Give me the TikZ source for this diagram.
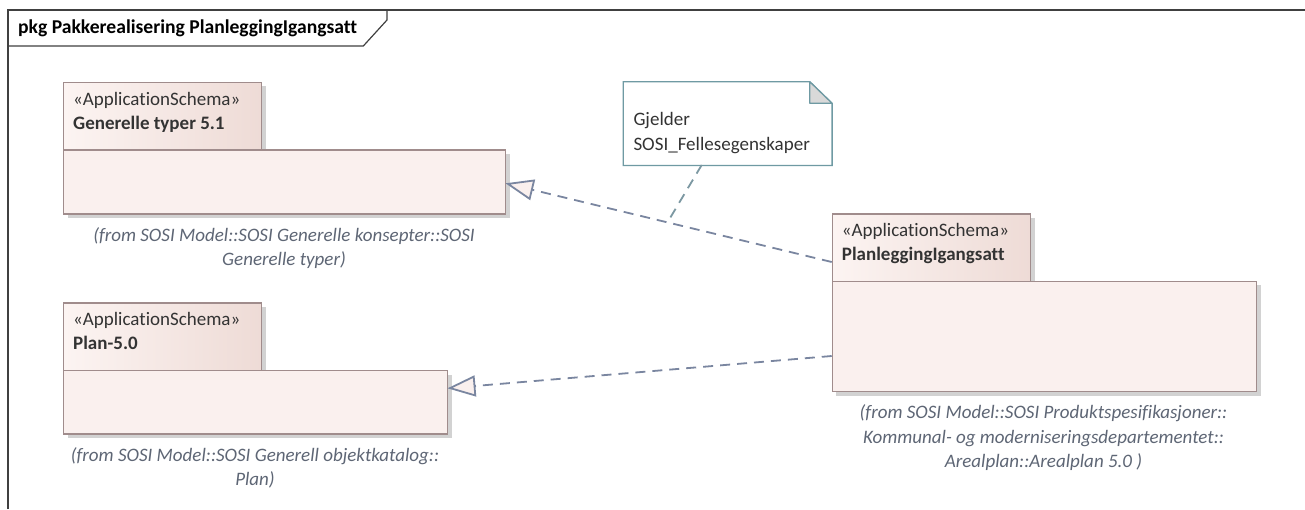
\documentclass[tikz,border=0pt]{standalone}
\usepackage{fontspec}
\setmainfont{Carlito}[Ligatures={NoCommon,NoRequired,NoContextual}]
\usetikzlibrary{arrows.meta,shadows}
\definecolor{framec}{HTML}{404040}
\definecolor{pkgborder}{HTML}{A08C8C}
\definecolor{pkgfill}{HTML}{FAF0EE}
\definecolor{tabL}{HTML}{FCF4F2}
\definecolor{tabR}{HTML}{EEDBD6}
\definecolor{shadowc}{HTML}{D2D2D2}
\definecolor{conn}{HTML}{7A86A0}
\definecolor{notebd}{HTML}{6F9AA3}
\definecolor{notelink}{HTML}{7C98A2}
\definecolor{foldc}{HTML}{D9D9D9}
\definecolor{txt}{HTML}{333333}
\definecolor{capc}{HTML}{5E6675}
\begin{document}
\begin{tikzpicture}[x=1pt,y=-1pt,font=\fontsize{19}{24}\selectfont,
  pkgbox/.style={draw=pkgborder,line width=1.3pt,fill=pkgfill,anchor=north west,inner sep=0pt,
    drop shadow={shadow xshift=4pt,shadow yshift=-4pt,fill=shadowc,opacity=1}},
  pkgtab/.style={pkgbox,left color=tabL,right color=tabR},
  stereo/.style={anchor=base west,inner sep=0pt,text=txt},
  pkgname/.style={anchor=base west,inner sep=0pt,text=txt,font=\bfseries\fontsize{19}{24}\selectfont},
  captxt/.style={anchor=base,inner sep=0pt,text=capc,font=\itshape\fontsize{19}{24}\selectfont},
  conn/.style={draw=conn,line width=1.8pt,dash pattern=on 10pt off 7pt,
    -{Triangle[length=28pt,width=21pt,fill=pkgfill,line width=1.8pt]}},
  notelinkst/.style={draw=notelink,line width=1.8pt,dash pattern=on 10pt off 7pt}
]
\useasboundingbox (0,0) rectangle (1305,509);
\fill[white] (0,0) rectangle (1305,509);

% frame
\draw[framec,line width=1.5pt] (8,509) -- (8,10) -- (1305,10);
\draw[framec,line width=1.2pt] (8,46) -- (363.3,46) -- (387,20) -- (387,10);
\node[anchor=base west,inner sep=0pt,text=black,font=\bfseries\fontsize{19.6}{22}\selectfont] (title) at (18,33.5) {pkg Pakkerealisering PlanleggingIgangsatt};

% Generelle typer 5.1
\node[pkgtab,minimum width=198pt,minimum height=67.6pt] (gtab) at (63,81.7) {};
\node[pkgbox,minimum width=442pt,minimum height=64pt] (gbody) at (63,149.3) {};
\node[stereo] (gst) at (73,105) {«ApplicationSchema»};
\node[pkgname] (gname) at (73,129) {Generelle typer 5.1};
\node[captxt] (gcap1) at (284,241) {(from SOSI Model::SOSI Generelle konsepter::SOSI};
\node[captxt] (gcap2) at (284,265) {Generelle typer)};

% Plan-5.0
\node[pkgtab,minimum width=198pt,minimum height=67.7pt] (ptab) at (63,302.3) {};
\node[pkgbox,minimum width=384pt,minimum height=63.3pt] (pbody) at (63,370) {};
\node[stereo] (pst) at (73,325.6) {«ApplicationSchema»};
\node[pkgname] (pname) at (73,349.6) {Plan-5.0};
\node[captxt] (pcap1) at (255,461) {(from SOSI Model::SOSI Generell objektkatalog::};
\node[captxt] (pcap2) at (255,485) {Plan)};

% PlanleggingIgangsatt
\node[pkgtab,minimum width=198.3pt,minimum height=67.4pt] (itab) at (831.7,213.3) {};
\node[pkgbox,minimum width=424.3pt,minimum height=110.3pt] (ibody) at (831.7,280.7) {};
\node[stereo] (ist) at (841.7,236.6) {«ApplicationSchema»};
\node[pkgname] (iname) at (841.7,260.6) {PlanleggingIgangsatt};
\node[captxt] (icap1) at (1043.5,418.5) {(from SOSI Model::SOSI Produktspesifikasjoner::};
\node[captxt] (icap2) at (1043.5,443) {Kommunal- og moderniseringsdepartementet::};
\node[captxt] (icap3) at (1043.5,467.5) {Arealplan::Arealplan 5.0 )};

% note
\node[anchor=north west,inner sep=0pt,minimum width=208.4pt,minimum height=83.3pt] (note) at (623.3,81.7) {};
\draw[notebd,line width=1.3pt,fill=white]
  (note.north west) -- ([xshift=-22.4pt]note.north east) -- ([yshift=-21.6pt]note.north east)
  -- (note.south east) -- (note.south west) -- cycle;
\draw[notebd,line width=1.3pt,fill=foldc,line join=round]
  ([xshift=-22.4pt]note.north east) -- ([xshift=-22.4pt,yshift=-21.6pt]note.north east)
  -- ([yshift=-21.6pt]note.north east) -- cycle;
\node[stereo] (nt1) at (633.3,125) {Gjelder};
\node[stereo] (nt2) at (633.3,150) {SOSI\_Fellesegenskaper};

% connectors
\coordinate (c1s) at (831.7,262);
\coordinate (c1e) at (505.5,183.3);
\coordinate (c2s) at (831.7,356);
\coordinate (c2e) at (447.5,388.3);
\coordinate (nls) at (701.7,165);
\coordinate (nle) at (668.3,221);
\draw[conn] (c1s) -- (c1e);
\draw[conn] (c2s) -- (c2e);
\draw[notelinkst] (nls) -- (nle);
\end{tikzpicture}
\end{document}
